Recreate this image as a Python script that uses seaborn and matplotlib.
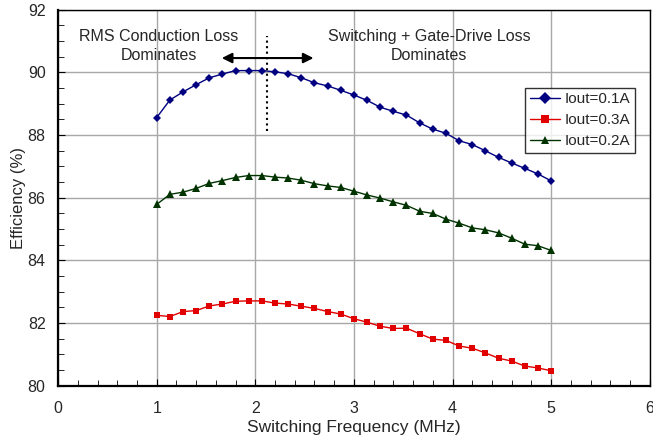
import numpy as np
import pandas as pd
import seaborn as sns
import matplotlib.pyplot as plt
from matplotlib.ticker import MultipleLocator

# switching frequency points (MHz), 31 points from 1 to 5
freq = [1.0, 1.133, 1.267, 1.4, 1.533, 1.667, 1.8, 1.933, 2.067, 2.2,
        2.333, 2.467, 2.6, 2.733, 2.867, 3.0, 3.133, 3.267, 3.4, 3.533,
        3.667, 3.8, 3.933, 4.067, 4.2, 4.333, 4.467, 4.6, 4.733, 4.867, 5.0]

eff_01 = [88.56, 89.12, 89.38, 89.61, 89.83, 89.95, 90.06, 90.06, 90.06, 90.02,
          89.96, 89.83, 89.67, 89.57, 89.43, 89.28, 89.11, 88.89, 88.76, 88.64,
          88.39, 88.19, 88.06, 87.82, 87.70, 87.50, 87.29, 87.11, 86.94, 86.76, 86.54]

eff_03 = [82.25, 82.21, 82.37, 82.40, 82.55, 82.61, 82.70, 82.71, 82.71, 82.64,
          82.61, 82.54, 82.47, 82.37, 82.29, 82.14, 82.03, 81.90, 81.83, 81.84,
          81.66, 81.49, 81.45, 81.27, 81.20, 81.05, 80.88, 80.79, 80.63, 80.57, 80.48]

eff_02 = [85.79, 86.11, 86.18, 86.30, 86.46, 86.55, 86.65, 86.71, 86.71, 86.66,
          86.63, 86.56, 86.45, 86.38, 86.33, 86.21, 86.09, 85.99, 85.87, 85.76,
          85.57, 85.50, 85.32, 85.19, 85.04, 84.98, 84.88, 84.71, 84.52, 84.47, 84.32]

series_names = ['Iout=0.1A', 'Iout=0.3A', 'Iout=0.2A']

df = pd.concat([
    pd.DataFrame({'freq': freq, 'eff': eff_01, 'series': series_names[0]}),
    pd.DataFrame({'freq': freq, 'eff': eff_03, 'series': series_names[1]}),
    pd.DataFrame({'freq': freq, 'eff': eff_02, 'series': series_names[2]}),
])

sns.set_style('white')
plt.rcParams['font.family'] = ['Liberation Sans', 'DejaVu Sans']

palette = {'Iout=0.1A': '#000080', 'Iout=0.3A': '#E00000', 'Iout=0.2A': '#003300'}
markers = {'Iout=0.1A': 'D', 'Iout=0.3A': 's', 'Iout=0.2A': '^'}

fig = plt.figure(figsize=(6.53, 4.45), dpi=100)
ax = fig.add_axes([0.089, 0.133, 0.906, 0.845])

sns.lineplot(data=df, x='freq', y='eff', hue='series', style='series',
             hue_order=series_names, style_order=series_names,
             palette=palette, markers=markers, dashes=False,
             markeredgewidth=0, linewidth=1, ax=ax)

# per-series marker sizes (diamond / square / triangle)
for line, ms in zip(ax.lines[:3], [4.3, 4.5, 6]):
    line.set_markersize(ms)

ax.set_xlim(0, 6)
ax.set_ylim(80, 92)
ax.set_xticks(range(0, 7))
ax.set_yticks(range(80, 93, 2))
ax.xaxis.set_minor_locator(MultipleLocator(0.2))
ax.yaxis.set_minor_locator(MultipleLocator(0.5))
ax.tick_params(which='major', length=5, direction='in', color='black',
               labelsize=11.5, bottom=True, left=True)
ax.tick_params(axis='x', which='major', pad=11)
ax.tick_params(axis='y', which='major', pad=9)
ax.tick_params(which='minor', length=4, direction='in', color='black',
               bottom=True, left=True)
ax.grid(True, which='major', color='#A8A8A8', linewidth=1)
ax.set_axisbelow(True)
for s in ax.spines.values():
    s.set_color('black')
    s.set_linewidth(1)
ax.spines['left'].set_linewidth(1.6)
ax.spines['bottom'].set_linewidth(1.6)

ax.set_xlabel('Switching Frequency (MHz)', fontsize=12.5, labelpad=3)
ax.set_ylabel('Efficiency (%)', fontsize=12, labelpad=1)

# annotations
ax.text(1.02, 90.84, 'RMS Conduction Loss\nDominates', ha='center', va='center',
        fontsize=11.5, linespacing=1.35)
ax.text(3.76, 90.84, 'Switching + Gate-Drive Loss\nDominates', ha='center', va='center',
        fontsize=11.5, linespacing=1.35)
ax.annotate('', xy=(1.66, 90.46), xytext=(2.59, 90.46),
            arrowprops=dict(arrowstyle='<|-|>', color='black', lw=1.5,
                            mutation_scale=15, shrinkA=0, shrinkB=0))
ax.plot([2.12, 2.12], [88.14, 91.15], color='black', linestyle=':', linewidth=1.5)

leg = ax.legend(loc='upper right', bbox_to_anchor=(0.975, 0.793), fontsize=11,
                frameon=True, fancybox=False, edgecolor='black',
                handlelength=2.0, borderpad=0.3, labelspacing=0.45,
                handletextpad=0.3, borderaxespad=0)
leg.get_frame().set_linewidth(1)

fig.savefig('out.png', dpi=100)
